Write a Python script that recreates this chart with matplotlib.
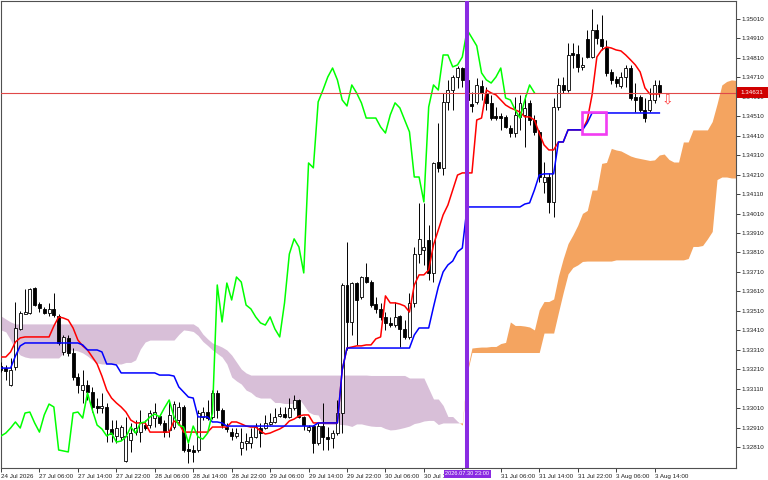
import matplotlib
matplotlib.use("Agg")
import matplotlib.pyplot as plt
import numpy as np
from matplotlib.patches import Rectangle
from matplotlib.transforms import blended_transform_factory

# H1 quotes in points (134631 -> 1.34631), one value per bar
bar_open = [
    133227, 133216, 133129, 133222, 133417, 133496, 133499, 133628, 133545, 133520,
    133499, 133520, 133484, 133299, 133371, 133294, 133170, 133103, 133129, 133093,
    133021, 133011, 133016, 132903, 132867, 132862, 132739, 132846, 132887, 132887,
    132923, 132923, 132959, 132970, 132934, 132898, 132913, 132949, 133016, 132800,
    132795, 132795, 132965, 132990, 132965, 133088, 133001, 132913, 132887, 132867,
    132805, 132831, 132831, 132862, 132908, 132908, 132929, 132939, 132970, 132980,
    132965, 133011, 133052, 132965, 132898, 132918, 132831, 132918, 132862, 132857,
    132882, 132985, 133643, 133453, 133653, 133581, 133684, 133658, 133545, 133520,
    133479, 133448, 133437, 133484, 133417, 133376, 133551, 133802, 133823, 133874,
    133705, 134275, 134245, 134584, 134645, 134712, 134758, 134697, 134573, 134584,
    134666, 134630, 134579, 134512, 134512, 134507, 134450, 134424, 134507, 134517,
    134579, 134491, 134430, 134173, 134198, 134070, 134558, 134671, 134645, 134836,
    134830, 134764, 134907, 134815, 134954, 134907, 134861, 134738, 134702, 134666,
    134712, 134758, 134609, 134609, 134543, 134543, 134594, 134671,
]
bar_high = [
    133247, 133232, 133268, 133556, 133510, 133623, 133628, 133633, 133556, 133530,
    133551, 133602, 133494, 133386, 133386, 133319, 133191, 133206, 133155, 133119,
    133062, 133088, 133037, 132949, 132949, 132923, 132965, 132934, 132949, 133001,
    132949, 133001, 133037, 132980, 132949, 133042, 133047, 133042, 133026, 132831,
    132821, 133001, 133016, 133052, 133103, 133103, 133011, 132934, 132908, 132908,
    132908, 132882, 132908, 132934, 132934, 132975, 132985, 133011, 133016, 133016,
    133062, 133078, 133057, 132970, 132923, 132923, 132934, 133037, 132913, 132898,
    133052, 133653, 133864, 133658, 133658, 133689, 133756, 133669, 133581, 133551,
    133504, 133479, 133556, 133489, 133463, 133602, 133838, 134065, 134065, 133951,
    134275, 134476, 134630, 134697, 134723, 134769, 134764, 134723, 134635, 134707,
    134697, 134661, 134620, 134558, 134527, 134517, 134466, 134609, 134620, 134620,
    134594, 134517, 134440, 134275, 134219, 134604, 134707, 134712, 134887, 134887,
    134877, 134815, 134954, 135062, 134985, 135031, 134902, 134753, 134717, 134738,
    134774, 134774, 134681, 134620, 134604, 134656, 134697, 134697,
]
bar_low = [
    133196, 133155, 133124, 133206, 133412, 133494, 133494, 133535, 133504, 133494,
    133484, 133479, 133335, 133283, 133278, 133155, 133088, 133037, 133052, 132990,
    132985, 132985, 132836, 132836, 132831, 132846, 132733, 132785, 132872, 132836,
    132898, 132908, 132913, 132923, 132862, 132862, 132903, 132923, 132785, 132728,
    132733, 132785, 132949, 132949, 132954, 132959, 132908, 132887, 132846, 132857,
    132769, 132795, 132805, 132857, 132810, 132903, 132923, 132934, 132965, 132959,
    132959, 133001, 132959, 132898, 132887, 132780, 132821, 132795, 132795, 132805,
    132872, 132882, 133309, 133386, 133335, 133571, 133653, 133530, 133499, 133463,
    133412, 133427, 133427, 133324, 133366, 133366, 133530, 133756, 133746, 133669,
    133658, 134224, 134208, 134543, 134543, 134656, 134661, 134584, 134532, 134573,
    134594, 134543, 134491, 134491, 134440, 134450, 134404, 134404, 134440, 134352,
    134466, 134414, 134173, 134116, 134013, 133993, 134543, 134630, 134635, 134758,
    134738, 134748, 134810, 134810, 134882, 134851, 134717, 134676, 134661, 134656,
    134661, 134594, 134532, 134532, 134481, 134532, 134579, 134609,
]
bar_close = [
    133206, 133201, 133206, 133422, 133499, 133502, 133623, 133540, 133525, 133499,
    133520, 133489, 133345, 133376, 133294, 133170, 133129, 133129, 133093, 133016,
    133011, 133021, 132903, 132877, 132908, 132913, 132867, 132882, 132908, 132939,
    132908, 132985, 132990, 132934, 132887, 132975, 133031, 133016, 132795, 132790,
    132785, 132985, 132990, 132959, 133088, 133001, 132923, 132903, 132867, 132882,
    132836, 132841, 132862, 132913, 132882, 132934, 132939, 132965, 132980, 132965,
    133011, 133052, 132965, 132923, 132913, 132831, 132918, 132862, 132851, 132882,
    132985, 133643, 133453, 133653, 133566, 133684, 133658, 133540, 133520, 133479,
    133448, 133437, 133479, 133417, 133376, 133551, 133802, 133880, 133838, 133705,
    134270, 134245, 134584, 134645, 134712, 134758, 134697, 134594, 134563, 134671,
    134630, 134579, 134501, 134501, 134501, 134455, 134424, 134517, 134579, 134553,
    134491, 134430, 134198, 134198, 134070, 134558, 134671, 134645, 134825, 134825,
    134764, 134774, 134815, 134954, 134913, 134872, 134733, 134697, 134681, 134712,
    134758, 134604, 134594, 134543, 134501, 134594, 134671, 134631,
]

# Ichimoku lines (points)
tenkan_sen = [
    133273, 133273, 133299, 133350, 133371, 133376, 133376, 133376, 133376, 133376,
    133376, 133432, 133479, 133473, 133463, 133422, 133360, 133330, 133309, 133273,
    133237, 133175, 133103, 133062, 133037, 133016, 132990, 132949, 132934, 132934,
    132934, 132887, 132887, 132887, 132887, 132887, 132944, 132934, 132887, 132887,
    132887, 132887, 132887, 132887, 132913, 132913, 132913, 132913, 132939, 132939,
    132929, 132918, 132913, 132913, 132893, 132877, 132882, 132893, 132903, 132918,
    132944, 132954, 132970, 132975, 132975, 132934, 132934, 132934, 132934, 132934,
    132934, 133206, 133319, 133324, 133330, 133330, 133335, 133335, 133366, 133376,
    133587, 133551, 133551, 133545, 133535, 133504, 133643, 133695, 133695, 133720,
    133849, 133926, 134003, 134054, 134131, 134208, 134219, 134219, 134219, 134491,
    134501, 134645, 134630, 134620, 134594, 134568, 134553, 134543, 134532, 134507,
    134507, 134491, 134424, 134363, 134337, 134337, 134378, 134378, 134440, 134440,
    134440, 134440, 134491, 134620, 134815, 134851, 134866, 134861, 134851, 134846,
    134825, 134800, 134774, 134738, 134656, 134625, 134625, 134625,
]
kijun_sen = [
    133216, 133216, 133216, 133278, 133330, 133345, 133345, 133345, 133345, 133345,
    133345, 133345, 133345, 133345, 133345, 133345, 133345, 133335, 133309, 133309,
    133309, 133299, 133237, 133237, 133232, 133191, 133191, 133191, 133191, 133191,
    133191, 133191, 133191, 133180, 133180, 133180, 133175, 133119, 133093, 133067,
    133062, 132965, 132965, 132965, 132939, 132939, 132934, 132918, 132918, 132918,
    132918, 132918, 132918, 132918, 132918, 132918, 132918, 132918, 132918, 132918,
    132918, 132918, 132918, 132918, 132918, 132918, 132934, 132934, 132934, 132934,
    132934, 133206, 133319, 133319, 133319, 133319, 133319, 133319, 133319, 133319,
    133319, 133319, 133319, 133319, 133319, 133319, 133386, 133422, 133422, 133422,
    133530, 133633, 133710, 133746, 133766, 133813, 133833, 134044, 134044, 134044,
    134044, 134044, 134044, 134044, 134044, 134044, 134044, 134044, 134044, 134059,
    134065, 134131, 134208, 134214, 134214, 134214, 134378, 134378, 134440, 134440,
    134440, 134440, 134476, 134527, 134527, 134527, 134527, 134527, 134527, 134527,
    134527, 134527, 134527, 134527, 134527, 134527, 134527, 134527,
]
# cloud edges, already shifted 26 bars ahead (bars 0..154)
senkou_a = [
    133412, 133402, 133360, 133309, 133283, 133273, 133268, 133268, 133268, 133268,
    133268, 133268, 133268, 133294, 133309, 133309, 133304, 133294, 133278, 133258,
    133242, 133237, 133237, 133237, 133237, 133237, 133245, 133245, 133258, 133314,
    133350, 133360, 133360, 133360, 133360, 133360, 133360, 133389, 133412, 133409,
    133404, 133384, 133353, 133332, 133309, 133291, 133273, 133237, 133170, 133150,
    133134, 133103, 133091, 133070, 133062, 133062, 133062, 133039, 133039, 133034,
    133034, 133034, 133060, 133026, 132990, 132978, 132975, 132926, 132926, 132926,
    132926, 132926, 132923, 132916, 132929, 132929, 132923, 132918, 132916, 132916,
    132905, 132898, 132900, 132905, 132911, 132918, 132931, 132936, 132944, 132947,
    132947, 132926, 132934, 132934, 132934, 132934, 132934, 133206, 133319, 133322,
    133324, 133324, 133327, 133327, 133342, 133348, 133453, 133435, 133435, 133432,
    133427, 133412, 133515, 133558, 133558, 133571, 133689, 133779, 133856, 133900,
    133949, 134011, 134026, 134131, 134131, 134268, 134273, 134345, 134337, 134332,
    134319, 134306, 134298, 134293, 134288, 134283, 134286, 134311, 134316, 134288,
    134275, 134275, 134378, 134378, 134440, 134440, 134440, 134440, 134483, 134573,
    134671, 134689, 134697, 134694, 134689,
]
senkou_b = [
    133484, 133468, 133453, 133443, 133443, 133443, 133443, 133443, 133443, 133443,
    133443, 133443, 133443, 133443, 133443, 133443, 133443, 133443, 133443, 133443,
    133443, 133443, 133443, 133443, 133443, 133443, 133443, 133443, 133443, 133443,
    133443, 133443, 133443, 133443, 133443, 133443, 133443, 133443, 133443, 133443,
    133443, 133427, 133391, 133366, 133345, 133335, 133324, 133309, 133283, 133247,
    133211, 133191, 133180, 133180, 133180, 133180, 133180, 133180, 133180, 133180,
    133180, 133180, 133180, 133180, 133180, 133180, 133180, 133180, 133180, 133180,
    133180, 133180, 133180, 133180, 133180, 133180, 133180, 133178, 133178, 133178,
    133178, 133178, 133178, 133178, 133178, 133165, 133165, 133165, 133165, 133111,
    133057, 133057, 133024, 132967, 132967, 132942, 132923, 133191, 133296, 133296,
    133296, 133296, 133296, 133296, 133296, 133296, 133296, 133296, 133296, 133296,
    133296, 133296, 133296, 133396, 133396, 133396, 133502, 133605, 133700, 133733,
    133746, 133764, 133766, 133766, 133766, 133766, 133766, 133766, 133772, 133772,
    133772, 133772, 133772, 133772, 133772, 133772, 133772, 133772, 133772, 133772,
    133772, 133772, 133772, 133779, 133841, 133841, 133846, 133880, 133918, 134185,
    134198, 134198, 134193, 134193, 134193,
]
chikou_shift = 26

time_ticks = [0, 8, 16, 24, 32, 40, 48, 56, 64, 72, 80, 88, 96, 104, 112, 120, 128, 136]
# the 30 Jul 22:00 label sits under the marker's time tag
time_labels = [
    "24 Jul 2026", "27 Jul 06:00", "27 Jul 14:00", "27 Jul 22:00", "28 Jul 06:00",
    "28 Jul 14:00", "28 Jul 22:00", "29 Jul 06:00", "29 Jul 14:00", "29 Jul 22:00",
    "30 Jul 06:00", "30 Jul 14:00", "", "31 Jul 06:00", "31 Jul 14:00",
    "31 Jul 22:00", "3 Aug 06:00", "3 Aug 14:00",
]

marked_bar = 97
marked_label = "2026.07.30 23:00"
box_bars = (121, 126)
box_prices = (1.34417, 1.34531)
arrow_bar = 138.7
arrow_price = 1.34594

POINT = 1e-5
plt.rcParams["font.family"] = ["Liberation Sans", "DejaVu Sans"]
FS = 4.5

o = np.array(bar_open) * POINT
h = np.array(bar_high) * POINT
l = np.array(bar_low) * POINT
c = np.array(bar_close) * POINT
x = np.arange(len(c))
span_a = np.array(senkou_a) * POINT
span_b = np.array(senkou_b) * POINT
xs = np.arange(len(span_a))

fig = plt.figure(figsize=(7.68, 4.8), dpi=100)
ax = fig.add_axes([1 / 768, 12.5 / 480, 735 / 768, 466.5 / 480])
ax.set_xlim(0.07, 152.95)
ax.set_ylim(1.32705, 1.351025)

# cloud
ax.fill_between(xs, span_a, span_b, where=span_a >= span_b, interpolate=True,
                color="#F4A460", lw=0, zorder=1)
ax.fill_between(xs, span_a, span_b, where=span_a < span_b, interpolate=True,
                color="#D8BFD8", lw=0, zorder=1)

# candles
up = c >= o
ax.vlines(x, l, h, color="black", lw=0.7, zorder=3)
ax.bar(x, np.maximum(np.abs(c - o), 0.000015), bottom=np.minimum(o, c), width=0.62,
       color=np.where(up, "white", "black"), edgecolor="black", linewidth=0.6, zorder=4)

# lines
ax.plot(x, np.array(tenkan_sen) * POINT, color="#FF0000", lw=1.1, zorder=5)
ax.plot(x, np.array(kijun_sen) * POINT, color="#0000FF", lw=1.1, zorder=5)
ax.plot(x[:-chikou_shift], c[chikou_shift:], color="#00FF00", lw=1.1, zorder=5)

# bid line + price tag
ax.axhline(c[-1], color="#E04848", lw=0.8, zorder=6)
tr = blended_transform_factory(ax.transAxes, ax.transData)
ax.add_patch(Rectangle((1 + 1 / 735, c[-1] - 0.00028), 31 / 735, 0.00056,
                       transform=tr, fc="#D00000", ec="none", clip_on=False, zorder=10))
ax.text(1 + 16 / 735, c[-1], f"{c[-1]:.5f}", transform=tr, ha="center", va="center",
        color="white", fontsize=FS, zorder=11, clip_on=False)

# vertical marker with time tag
ax.axvline(marked_bar, color="#8A2BE2", lw=2.9, zorder=7)
trx = blended_transform_factory(ax.transData, ax.transAxes)
ax.add_patch(Rectangle((marked_bar - 4.9, -0.0225), 9.8, 0.0182, transform=trx,
                       fc="#8A2BE2", ec="none", clip_on=False, zorder=10))
ax.text(marked_bar, -0.0134, marked_label, transform=trx, ha="center", va="center",
        color="white", fontsize=4.1, zorder=11, clip_on=False)

# annotations
ax.add_patch(Rectangle((box_bars[0], box_prices[0]), box_bars[1] - box_bars[0],
                       box_prices[1] - box_prices[0], fill=False, ec="#F23CF2",
                       lw=1.9, zorder=8))
ax.text(arrow_bar, arrow_price, "\u21e9", color="#FF4040", fontsize=10,
        ha="center", va="center", family="DejaVu Sans", zorder=8)

# axes styling
for s in ax.spines.values():
    s.set_color("#505050")
    s.set_linewidth(0.8)
ax.yaxis.tick_right()
yt = np.arange(132810, 135011, 100) * POINT
ax.set_yticks(yt)
ax.set_yticklabels([f"{v:.5f}" for v in yt])
ax.tick_params(axis="y", direction="out", length=3, width=0.6, pad=1,
               labelsize=FS, colors="#202020")
ax.set_xticks(time_ticks)
ax.set_xticklabels(time_labels, ha="left")
ax.tick_params(axis="x", direction="out", length=3, width=0.6, pad=1.5,
               labelsize=FS, colors="#202020")

fig.savefig("out.png", dpi=100)
